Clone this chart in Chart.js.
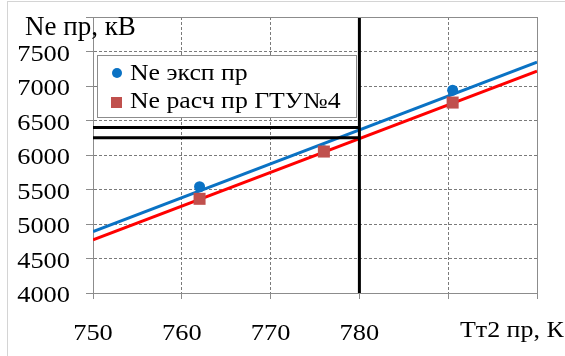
<!DOCTYPE html>
<html>
<head>
<meta charset="utf-8">
<script src="https://cdn.jsdelivr.net/npm/chart.js@4.4.0/dist/chart.umd.min.js"></script>
<style>
  html, body { margin: 0; padding: 0; background: #fff; }
</style>
</head>
<body>
<canvas id="neChart" width="565" height="356"></canvas>
<script>
// measured points (experiment)
const expT = [762, 776, 790.5];
const expNe = [5540, 6060, 6940];

// calculated points (GTU No4)
const calcT = [762, 776, 790.5];
const calcNe = [5365, 6050, 6760];

// trend lines, values at both ends of the x axis
const trendT = [750, 800];
const expTrend = [4890, 7345];
const calcTrend = [4770, 7215];

// black guide lines
const guideT = 780;
const guideNe = [6400, 6250];

const legendLabels = ['Ne эксп пр', 'Ne расч пр ГТУ№4'];
const yTitle = 'Ne пр, кВ';
const xTitle = 'Тт2 пр, К';

const serif = "'Liberation Serif', 'Times New Roman', serif";
const blue = '#0a72c4';
const red = '#ff0000';
const redMarker = '#c0504d';
const gridGray = '#7a7a7a';
const frameGray = '#8c8c8c';

function pts(xs, ys) {
  return xs.map((x, i) => ({ x: x, y: ys[i] }));
}

// text a bit wider than the font, like the original picture
function wideText(ctx, text, x, y, size, stretch, align) {
  ctx.save();
  ctx.font = size + 'px ' + serif;
  ctx.translate(x, y);
  ctx.scale(stretch, 1);
  ctx.textAlign = align;
  ctx.textBaseline = 'alphabetic';
  ctx.fillText(text, 0, 0);
  ctx.restore();
}

// Black guide lines as plain line datasets
const guideSets = [
  { data: [{ x: guideT, y: 4000 }, { x: guideT, y: 8000 }] },
  { data: [{ x: 750, y: guideNe[0] }, { x: guideT, y: guideNe[0] }] },
  { data: [{ x: 750, y: guideNe[1] }, { x: guideT, y: guideNe[1] }] },
].map(d => ({
  data: d.data,
  showLine: true,
  borderColor: '#000',
  borderWidth: 3,
  pointRadius: 0,
  order: 1,
}));

// frame, tick labels, titles and legend
const framePlugin = {
  id: 'frame',
  beforeDraw(chart) {
    const ctx = chart.ctx;
    ctx.save();
    ctx.fillStyle = '#fff';
    ctx.fillRect(0, 0, chart.width, chart.height);
    ctx.restore();
  },
  afterDraw(chart) {
    const ctx = chart.ctx;
    const a = chart.chartArea;
    const xs = chart.scales.x;
    const ys = chart.scales.y;
    ctx.save();

    // plot border (top and right)
    ctx.fillStyle = frameGray;
    ctx.fillRect(Math.round(a.left), Math.round(a.top), Math.round(a.right - a.left) + 1, 1);
    ctx.fillRect(Math.round(a.right), Math.round(a.top), 1, Math.round(a.bottom - a.top));

    // outer border
    ctx.fillStyle = '#d4d4d4';
    ctx.fillRect(7, 1, 1, chart.height);
    ctx.fillRect(7, 1, chart.width, 1);

    ctx.fillStyle = '#000';
    // tick labels
    ys.ticks.forEach(t => {
      if (t.value >= 8000) return;
      wideText(ctx, String(t.value), 70, ys.getPixelForValue(t.value) + 9, 24, 1.1, 'right');
    });
    xs.ticks.forEach(t => {
      if (t.value > 780) return;
      wideText(ctx, String(t.value), xs.getPixelForValue(t.value), 340, 24, 1.1, 'center');
    });

    // axis titles
    wideText(ctx, yTitle, 25, 35, 27, 1.0, 'left');
    wideText(ctx, xTitle, 460, 337, 24, 1.08, 'left');

    // legend box
    const lx = 97, ly = 55, lw = 259, lh = 62;
    ctx.fillStyle = '#fff';
    ctx.fillRect(lx, ly, lw, lh);
    ctx.fillStyle = frameGray;
    ctx.fillRect(lx, ly, lw, 1);
    ctx.fillRect(lx, ly + lh, lw + 1, 1);
    ctx.fillRect(lx, ly, 1, lh);
    ctx.fillRect(lx + lw, ly, 1, lh);

    ctx.fillStyle = blue;
    ctx.beginPath();
    ctx.arc(117, 73, 5, 0, Math.PI * 2);
    ctx.fill();
    ctx.fillStyle = redMarker;
    ctx.fillRect(111, 97, 11, 11);

    ctx.fillStyle = '#000';
    wideText(ctx, legendLabels[0], 130, 80, 23, 1.12, 'left');
    wideText(ctx, legendLabels[1], 130, 108, 23, 1.12, 'left');
    ctx.restore();
  }
};

const config = {
  type: 'scatter',
  data: {
    datasets: [
      ...guideSets,
      {
        label: legendLabels[1],
        data: pts(calcT, calcNe),
        pointStyle: 'rect',
        pointRadius: 8.5,
        backgroundColor: redMarker,
        borderColor: redMarker,
        borderWidth: 0,
        order: 2,
      },
      {
        label: legendLabels[0],
        data: pts(expT, expNe),
        pointStyle: 'circle',
        pointRadius: 5.5,
        backgroundColor: blue,
        borderColor: blue,
        borderWidth: 0,
        order: 3,
      },
      {
        data: pts(trendT, calcTrend),
        showLine: true,
        borderColor: red,
        borderWidth: 3,
        pointRadius: 0,
        order: 4,
      },
      {
        data: pts(trendT, expTrend),
        showLine: true,
        borderColor: blue,
        borderWidth: 3,
        pointRadius: 0,
        order: 5,
      },
    ],
  },
  options: {
    responsive: false,
    animation: false,
    layout: { padding: { top: 17, right: 28, left: 0, bottom: 0 } },
    plugins: {
      legend: { display: false },
      tooltip: { enabled: false },
    },
    scales: {
      x: {
        type: 'linear',
        min: 750,
        max: 800,
        ticks: { stepSize: 10, display: false },
        grid: {
          color: gridGray,
          lineWidth: 1,
          tickColor: frameGray,
          tickLength: 6,
        },
        border: { color: frameGray, dash: [3, 2] },
        afterFit: s => { s.height = 63; },
      },
      y: {
        type: 'linear',
        min: 4000,
        max: 8000,
        ticks: { stepSize: 500, display: false },
        grid: {
          color: gridGray,
          lineWidth: 1,
          tickColor: frameGray,
          tickLength: 7,
        },
        border: { color: frameGray, dash: [3, 2] },
        afterFit: s => { s.width = 93; },
      },
    },
  },
  plugins: [framePlugin],
};

const ctx = document.getElementById('neChart').getContext('2d');
const neChart = new Chart(ctx, config);
</script>
</body>
</html>
